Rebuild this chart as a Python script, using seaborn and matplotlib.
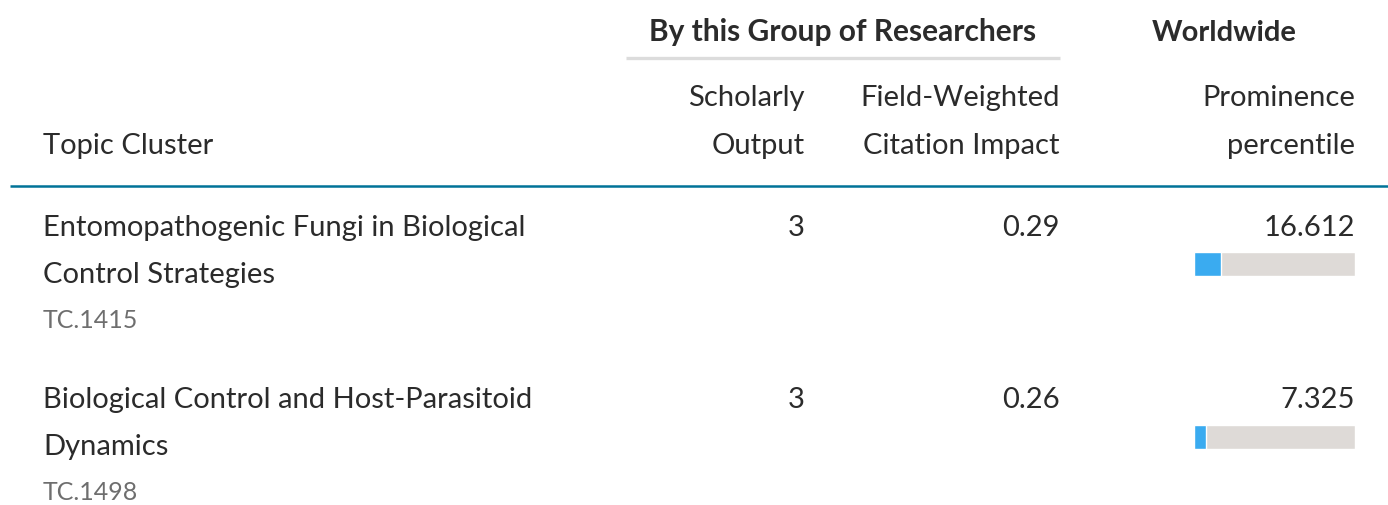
import matplotlib
matplotlib.use("Agg")
import matplotlib.pyplot as plt
import seaborn as sns
import pandas as pd

# data
topic_lines = [["Entomopathogenic Fungi in Biological", "Control Strategies"],
               ["Biological Control and Host-Parasitoid", "Dynamics"]]
codes = ["TC.1415", "TC.1498"]
scholarly_output = [3, 3]
fwci = [0.29, 0.26]
prominence = [16.612, 7.325]

df = pd.DataFrame({"code": codes, "prominence": prominence, "track": [100, 100]})

sns.set_style("white")
plt.rcParams["font.family"] = ["Lato", "DejaVu Sans"]

TXT = "#2b2b2b"
GREY_TXT = "#6e6e6e"
TEAL = "#007398"
BLUE = "#3aabf0"
TRACK = "#dedad7"
FS = 21

fig = plt.figure(figsize=(13.88, 5.06), dpi=100)
ax = fig.add_axes([0, 0, 1, 1])
ax.set_xlim(0, 1388)
ax.set_ylim(506, 0)
ax.axis("off")

# header
ax.text(843, 32, "By this Group of Researchers", ha="center", va="center",
        fontsize=21.5, fontweight="bold", color=TXT)
ax.text(1224, 33, "Worldwide", ha="center", va="center",
        fontsize=21, fontweight="bold", color=TXT)
ax.plot([626, 1060], [59, 59], color="#dcdcdc", lw=2.4, solid_capstyle="butt")

ax.text(805, 98, "Scholarly", ha="right", va="center", fontsize=FS, color=TXT)
ax.text(805, 146, "Output", ha="right", va="center", fontsize=FS, color=TXT)
ax.text(1060, 98, "Field-Weighted", ha="right", va="center", fontsize=FS, color=TXT)
ax.text(1060, 146, "Citation Impact", ha="right", va="center", fontsize=FS, color=TXT)
ax.text(1355, 98, "Prominence", ha="right", va="center", fontsize=FS, color=TXT)
ax.text(1355, 146, "percentile", ha="right", va="center", fontsize=FS, color=TXT)
ax.text(43, 146, "Topic Cluster", ha="left", va="center", fontsize=FS, color=TXT)

ax.plot([10, 1388], [187, 187], color=TEAL, lw=1.8, solid_capstyle="butt")

# rows
row_y = [228, 400]
for i, y in enumerate(row_y):
    for j, line in enumerate(topic_lines[i]):
        ax.text(43, y + 47 * j, line, ha="left", va="center", fontsize=FS, color=TXT)
    ax.text(43, y + 93, codes[i], ha="left", va="center", fontsize=18, color=GREY_TXT)
    ax.text(805, y, f"{scholarly_output[i]}", ha="right", va="center", fontsize=FS, color=TXT)
    ax.text(1060, y, f"{fwci[i]:.2f}", ha="right", va="center", fontsize=FS, color=TXT)
    ax.text(1355, y, f"{prominence[i]:.3f}", ha="right", va="center", fontsize=FS, color=TXT)

# prominence bars
w = 0.142
bax = fig.add_axes([1194 / 1388, (506 - 450) / 506, 161 / 1388, 197 / 506])
sns.barplot(data=df, x="track", y="code", color=TRACK, width=w, ax=bax,
            saturation=1, orient="h")
sns.barplot(data=df, x="prominence", y="code", color=BLUE, width=w, ax=bax,
            saturation=1, orient="h")
bax.set_xlim(0, 100)
bax.set_ylim(1 + w / 2, -w / 2)
bax.axis("off")

fig.savefig("out.png", dpi=100)
